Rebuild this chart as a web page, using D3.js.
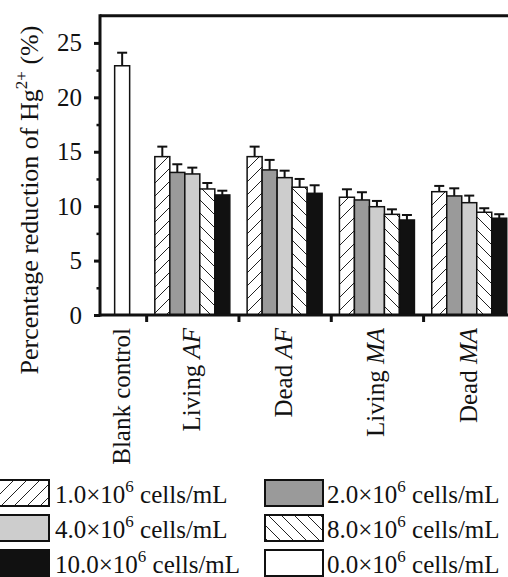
<!DOCTYPE html>
<html>
<head>
<meta charset="utf-8">
<script src="https://cdn.jsdelivr.net/npm/d3@7"></script>
<style>
  html, body { margin: 0; padding: 0; background: #fff; }
  svg { display: block; }
  text { font-family: "Liberation Serif", "Times New Roman", serif; fill: #111; }
</style>
</head>
<body>
<svg id="chart" width="508" height="577"></svg>
<script>
// categories on the x axis
var groups = ["Living AF", "Dead AF", "Living MA", "Dead MA"];
var groupPos = [1, 2, 3, 4];
var groupEdges = [0.5, 1.5, 2.5, 3.5];

// blank control bar
var blankLabel = "Blank control";
var blankPos = 0.24;
var blankValue = 22.9;
var blankErr = 1.2;

// cell concentrations (series) and their values per group
var seriesNames = ["1.0", "2.0", "4.0", "8.0", "10.0"];
var seriesValues = [
  [14.55, 14.55, 10.82, 11.33],
  [13.10, 13.33, 10.57, 10.94],
  [12.96, 12.62,  9.95, 10.32],
  [11.58, 11.74,  9.25,  9.44],
  [11.03, 11.18,  8.73,  8.89]
];
var seriesErrors = [
  [0.92, 0.92, 0.73, 0.53],
  [0.75, 0.92, 0.71, 0.70],
  [0.58, 0.64, 0.53, 0.65],
  [0.55, 0.76, 0.46, 0.37],
  [0.39, 0.74, 0.46, 0.37]
];

// y ticks
var yMajor = [0, 5, 10, 15, 20, 25];
var yMinor = [2.5, 7.5, 12.5, 17.5, 22.5];

// legend entries, two columns
var legendLeft = ["1.0", "4.0", "10.0"];
var legendRight = ["2.0", "8.0", "0.0"];

var svg = d3.select("#chart");

var x = d3.scaleLinear().domain([0, 4.5]).range([100, 515.4]);
var y = d3.scaleLinear().domain([0, 27.5]).range([315, 15.7]);
var barW = 15;

// fills for each concentration
var defs = svg.append("defs");
function hatch(id, forward) {
  var p = defs.append("pattern").attr("id", id)
    .attr("patternUnits", "userSpaceOnUse").attr("width", 13).attr("height", 13);
  p.append("rect").attr("width", 13).attr("height", 13).attr("fill", "#fff");
  p.append("path")
    .attr("d", forward ? "M-1,1 l2,-2 M0,13 l13,-13 M12,14 l2,-2"
                       : "M-1,12 l2,2 M0,0 l13,13 M12,-1 l2,2")
    .attr("stroke", "#222").attr("stroke-width", 1);
}
hatch("fwd", true);
hatch("bck", false);

var fillOf = {
  "0.0": "#fff",
  "1.0": "url(#fwd)",
  "2.0": "#9a9a9a",
  "4.0": "#cdcdcd",
  "8.0": "url(#bck)",
  "10.0": "#111"
};

// bars
var bars = [];
seriesNames.forEach(function(s, i) {
  groups.forEach(function(g, j) {
    bars.push({ s: s, cx: x(groupPos[j]) + (i - 2) * barW, v: seriesValues[i][j], e: seriesErrors[i][j] });
  });
});
bars.push({ s: "0.0", cx: x(blankPos), v: blankValue, e: blankErr });

var bg = svg.append("g");
bg.selectAll("line.err").data(bars).enter().append("line")
  .attr("x1", function(d) { return d.cx; }).attr("x2", function(d) { return d.cx; })
  .attr("y1", function(d) { return y(d.v); }).attr("y2", function(d) { return y(d.v + d.e); })
  .attr("stroke", "#111").attr("stroke-width", 2);
bg.selectAll("line.cap").data(bars).enter().append("line")
  .attr("x1", function(d) { return d.cx - 5; }).attr("x2", function(d) { return d.cx + 5; })
  .attr("y1", function(d) { return y(d.v + d.e); }).attr("y2", function(d) { return y(d.v + d.e); })
  .attr("stroke", "#111").attr("stroke-width", 2);
bg.selectAll("rect").data(bars).enter().append("rect")
  .attr("x", function(d) { return d.cx - barW / 2; })
  .attr("y", function(d) { return y(d.v); })
  .attr("width", barW)
  .attr("height", function(d) { return y(0) - y(d.v); })
  .attr("fill", function(d) { return fillOf[d.s]; })
  .attr("stroke", "#111").attr("stroke-width", 1.5);

// frame top line
svg.append("line").attr("x1", x(0)).attr("x2", 520).attr("y1", y(27.5)).attr("y2", y(27.5))
  .attr("stroke", "#111").attr("stroke-width", 3);

// y axis
var yAxis = svg.append("g").attr("transform", "translate(" + x(0) + ",0)")
  .call(d3.axisLeft(y).tickValues(yMajor).tickSize(6).tickPadding(12).tickFormat(d3.format("d")));
svg.append("g").attr("transform", "translate(" + x(0) + ",0)")
  .call(d3.axisLeft(y).tickValues(yMinor).tickSize(3.5).tickFormat(""))
  .call(function(g) { g.select(".domain").remove(); g.selectAll("line").attr("stroke-width", 2.5).attr("stroke", "#111"); });
yAxis.select(".domain").attr("stroke", "#111").attr("stroke-width", 3).attr("d", "M0," + (y(27.5) - 1.5) + "V" + (y(0) + 1.5));
yAxis.selectAll(".tick line").attr("stroke", "#111").attr("stroke-width", 3);
yAxis.selectAll(".tick text").attr("font-size", 25).attr("font-family", "Liberation Serif").attr("fill", "#111");

// x axis
var xAxis = svg.append("g").attr("transform", "translate(0," + y(0) + ")")
  .call(d3.axisBottom(x).tickValues(groupEdges).tickSize(7).tickFormat(""));
xAxis.select(".domain").attr("stroke", "#111").attr("stroke-width", 3).attr("d", "M" + x(0) + ",0H520");
xAxis.selectAll(".tick line").attr("stroke", "#111").attr("stroke-width", 3);

// x labels
var labels = [{ pos: blankPos, t: [blankLabel], it: "" }];
groups.forEach(function(g, j) {
  var parts = g.split(" ");
  labels.push({ pos: groupPos[j], t: [parts[0] + " "], it: parts[1] });
});
labels.forEach(function(d) {
  var t = svg.append("text")
    .attr("transform", "translate(" + x(d.pos) + ",328) rotate(-90)")
    .attr("text-anchor", "end").attr("dy", "0.3em").attr("font-size", 25);
  t.append("tspan").text(d.t[0]);
  if (d.it) t.append("tspan").attr("font-style", "italic").text(d.it);
});

// y label
var yl = svg.append("text")
  .attr("transform", "translate(38,200) rotate(-90)")
  .attr("text-anchor", "middle").attr("font-size", 26);
yl.append("tspan").text("Percentage reduction of Hg");
yl.append("tspan").attr("font-size", 17).attr("dy", -11).text("2+");
yl.append("tspan").attr("dy", 11).text(" (%)");

// legend
function legendCol(items, bx, tx) {
  items.forEach(function(s, i) {
    var by = 480 + i * 35;
    svg.append("rect").attr("x", bx).attr("y", by).attr("width", 58).attr("height", 26)
      .attr("fill", fillOf[s]).attr("stroke", "#111").attr("stroke-width", 2);
    var t = svg.append("text").attr("x", tx).attr("y", by + 23).attr("font-size", 25);
    t.append("tspan").text(s + "\u00d710");
    t.append("tspan").attr("font-size", 17).attr("dy", -11).text("6");
    t.append("tspan").attr("dy", 11).text(" cells/mL");
  });
}
legendCol(legendLeft, -9, 55);
legendCol(legendRight, 265, 327);
</script>
</body>
</html>
